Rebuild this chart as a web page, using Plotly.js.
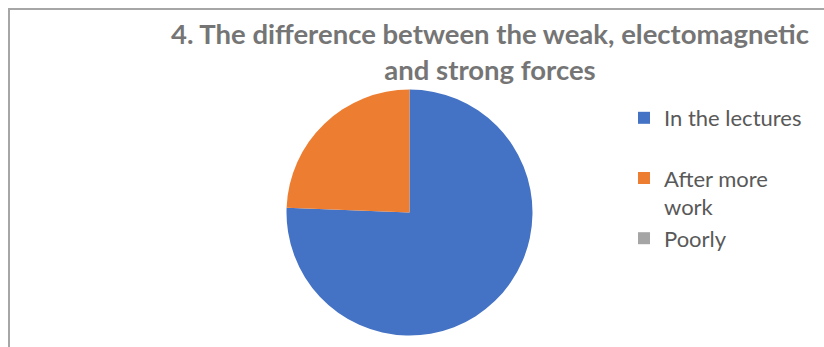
<!DOCTYPE html>
<html>
<head>
<meta charset="utf-8">
<script src="https://cdn.plot.ly/plotly-3.0.1.min.js"></script>
<style>
  html, body { margin: 0; padding: 0; background: #ffffff; }
  #wrap { position: relative; width: 824px; height: 347px; overflow: hidden; }
  #frame { position: absolute; left: 8px; top: 8px; width: 900px; height: 400px;
           border-top: 2px solid #a6a6a6; border-left: 2px solid #a6a6a6; box-sizing: border-box; }
  #chart { position: absolute; left: 0; top: 0; width: 824px; height: 347px; }
</style>
</head>
<body>
<div id="wrap">
  <div id="frame"></div>
  <div id="chart"></div>
</div>
<script>
const categories = ["In the lectures<br> ", "After more<br>work", "Poorly"];
const values = [75.6, 24.4, 0];
const colors = ["#4472c4", "#ed7d31", "#a5a5a5"];
const titleText = "4. The difference between the weak, electomagnetic<br>and strong forces";

const W = 824, H = 347;
const cx = 409.5, cy = 212.5, r = 123;

const trace = {
  type: "pie",
  labels: categories,
  values: values,
  sort: false,
  direction: "clockwise",
  rotation: 0,
  textinfo: "none",
  hoverinfo: "label+percent",
  marker: { colors: colors, line: { color: "#ffffff", width: 0 } },
  domain: {
    x: [(cx - r) / W, (cx + r) / W],
    y: [(H - cy - r) / H, (H - cy + r) / H]
  },
  showlegend: true
};

const layout = {
  width: W,
  height: H,
  margin: { l: 0, r: 0, t: 0, b: 0 },
  paper_bgcolor: "rgba(0,0,0,0)",
  plot_bgcolor: "rgba(0,0,0,0)",
  title: {
    text: titleText,
    font: { family: "Lato, 'Open Sans', sans-serif", size: 27.5, color: "#757575", weight: "bold" },
    x: 490 / W,
    xanchor: "center",
    xref: "container",
    y: 1 - 44 / H,
    yanchor: "top",
    yref: "container"
  },
  legend: {
    x: 624 / W,
    xanchor: "left",
    y: 1 - 97 / H,
    yanchor: "top",
    valign: "top",
    font: { family: "Lato, 'Open Sans', sans-serif", size: 22, color: "#595959" },
    bgcolor: "rgba(0,0,0,0)",
    itemclick: false
  }
};

Plotly.newPlot("chart", [trace], layout, { displayModeBar: false, staticPlot: true });
</script>
</body>
</html>
